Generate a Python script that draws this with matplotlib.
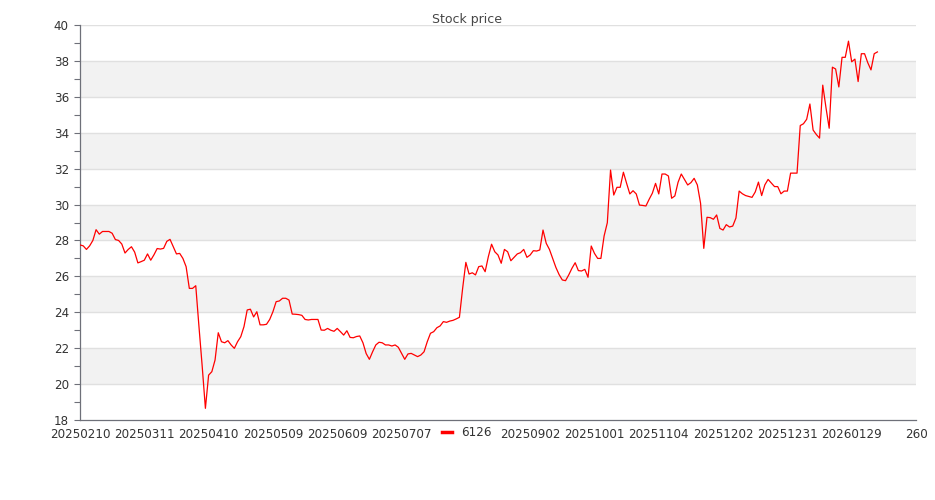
import matplotlib
matplotlib.use("Agg")
import matplotlib.pyplot as plt
import numpy as np

# Daily closing prices for 6126
prices = [
    27.75, 27.7, 27.5, 27.7, 28.0, 28.6, 28.35, 28.5, 28.5, 28.5,
    28.4, 28.05, 28.0, 27.8, 27.3, 27.5, 27.65, 27.35, 26.75, 26.82,
    26.9, 27.25, 26.9, 27.2, 27.55, 27.52, 27.56, 27.95, 28.06, 27.65,
    27.25, 27.28, 27.0, 26.54, 25.33, 25.33, 25.48, 23.2, 21.0, 18.65,
    20.5, 20.69, 21.34, 22.86, 22.36, 22.3, 22.42, 22.18, 21.99, 22.36,
    22.64, 23.2, 24.13, 24.17, 23.74, 24.03, 23.3, 23.3, 23.33, 23.6,
    24.03, 24.59, 24.63, 24.78, 24.78, 24.68, 23.9, 23.89, 23.87, 23.83,
    23.6, 23.57, 23.6, 23.6, 23.6, 23.01, 23.0, 23.1, 23.0, 22.94,
    23.1, 22.92, 22.73, 22.97, 22.6, 22.58, 22.65, 22.68, 22.3, 21.7,
    21.38, 21.8, 22.18, 22.33, 22.3, 22.18, 22.18, 22.12, 22.18, 22.05,
    21.71, 21.38, 21.68, 21.71, 21.62, 21.53, 21.62, 21.8, 22.36, 22.83,
    22.92, 23.14, 23.24, 23.48, 23.44, 23.51, 23.55, 23.63, 23.72, 25.33,
    26.78, 26.13, 26.2, 26.08, 26.54, 26.58, 26.26, 27.1, 27.79, 27.37,
    27.19, 26.73, 27.5, 27.37, 26.87, 27.06, 27.25, 27.32, 27.5, 27.06,
    27.19, 27.43, 27.41, 27.47, 28.58, 27.84, 27.5, 27.0, 26.5, 26.1,
    25.8, 25.76, 26.08, 26.45, 26.76, 26.32, 26.3, 26.39, 25.95, 27.69,
    27.28, 27.0, 27.0, 28.25, 28.99, 31.92, 30.53, 30.96, 30.96, 31.8,
    31.18, 30.59, 30.77, 30.59, 29.97, 29.95, 29.92, 30.29, 30.63, 31.18,
    30.59, 31.7, 31.7, 31.59, 30.35, 30.48, 31.24, 31.7, 31.4, 31.09,
    31.22, 31.46, 31.09, 30.07, 27.56, 29.29, 29.27, 29.18, 29.42, 28.67,
    28.58, 28.88, 28.75, 28.8, 29.25, 30.75, 30.6, 30.5, 30.45, 30.4,
    30.7, 31.25, 30.5, 31.1, 31.4, 31.2, 31.0, 31.0, 30.6, 30.75,
    30.75, 31.75, 31.75, 31.75, 34.4, 34.5, 34.75, 35.6, 34.15, 33.9,
    33.7, 36.65, 35.4, 34.25, 37.65, 37.55, 36.55, 38.2, 38.2, 39.1,
    37.95, 38.1, 36.85, 38.4, 38.4, 37.9, 37.5, 38.4, 38.5,
]
# the label under the legend is hidden in the original, so leave it blank
tick_labels = [
    "20250210", "20250311", "20250410", "20250509", "20250609", "20250707",
    "", "20250902", "20251001", "20251104", "20251202", "20251231",
    "20260129", "260",
]
n_categories = 261
label_step = 20
y_min, y_max = 18, 40

axis_color = "#6e7079"
text_color = "#333333"

fig = plt.figure(figsize=(9.35, 5.0), dpi=100)
ax = fig.add_axes([80 / 935, 80 / 500, 836 / 935, 395 / 500])

# alternating background bands + grid lines
for k, lo in enumerate(range(y_min, y_max, 2)):
    if k % 2 == 1:
        ax.axhspan(lo, lo + 2, color="#f2f2f2", zorder=0, lw=0)
for v in range(y_min + 2, y_max + 1, 2):
    ax.axhline(v, color="#e0e0e0", lw=1, zorder=1)

x = np.arange(len(prices))
ax.plot(x, prices, color="red", lw=0.9, label="6126", zorder=3)

ax.set_xlim(0, n_categories - 1)
ax.set_ylim(y_min, y_max)

ax.set_xticks(np.arange(0, n_categories, label_step))
ax.set_xticklabels(tick_labels)
ax.set_yticks(range(y_min, y_max + 1, 2))
ax.set_yticks(range(y_min + 1, y_max, 2), minor=True)

ax.tick_params(axis="x", length=0, pad=6, labelsize=8.6, labelcolor=text_color)
ax.tick_params(axis="y", which="both", length=4, color=axis_color, width=0.8,
               pad=4, labelsize=8.6, labelcolor=text_color)

for side in ["top", "right"]:
    ax.spines[side].set_visible(False)
for side in ["left", "bottom"]:
    ax.spines[side].set_color(axis_color)
    ax.spines[side].set_linewidth(0.9)

fig.suptitle("Stock price", y=0.975, fontsize=9, color="#464646")

leg = fig.legend(loc="center", bbox_to_anchor=(467 / 935, 1 - 433 / 500),
                 frameon=False, handlelength=0.85,
                 handletextpad=0.75, fontsize=8.6)
for line in leg.get_lines():
    line.set_linewidth(2.5)
for t in leg.get_texts():
    t.set_color(text_color)

fig.savefig("out.png", dpi=100)
